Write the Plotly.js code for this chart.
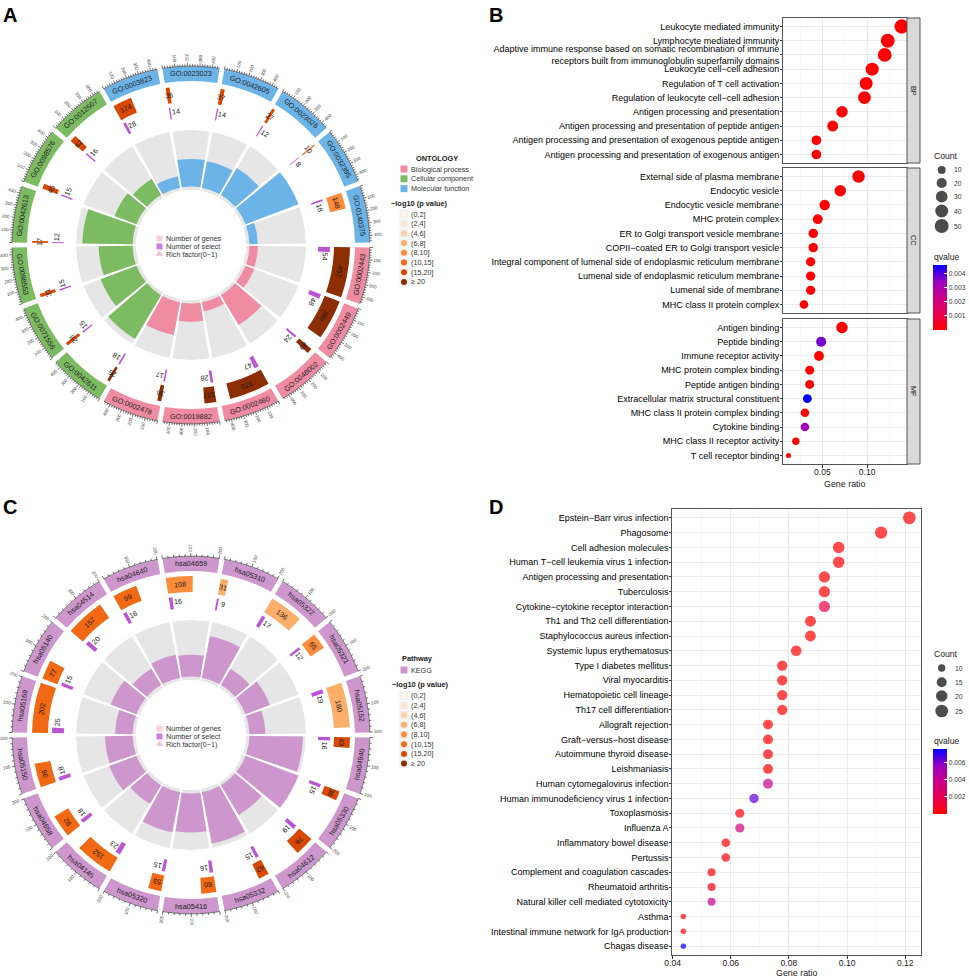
<!DOCTYPE html>
<html><head><meta charset="utf-8">
<script src="https://cdn.plot.ly/plotly-3.0.1.min.js"></script>
<style>html,body{margin:0;padding:0;background:#fff}</style>
</head><body><div id="chart" style="width:969px;height:978px"></div>
<script>
// ================= DATA =================
// Panel A : GO circle (sectors clockwise from 3 o'clock)
const goIds = ["GO:0002443","GO:0002449","GO:0048002","GO:0002460","GO:0019882","GO:0002478",
  "GO:0042611","GO:0071556","GO:0098553","GO:0042613","GO:0098576","GO:0012507",
  "GO:0003823","GO:0023023","GO:0042605","GO:0023026","GO:0032395","GO:0140375"];
const goOntology = ["BP","BP","BP","BP","BP","BP","CC","CC","CC","CC","CC","CC","MF","MF","MF","MF","MF","MF"];
const goGenes  = [457,365,49,370,107,36,25,28,31,17,45,62,174,36,37,27,10,148];
const goSelect = [54,48,24,47,28,17,18,15,15,12,15,16,28,14,14,12,8,18];
const goRich   = [0.12,0.13,0.49,0.13,0.26,0.47,0.72,0.54,0.48,0.71,0.33,0.26,0.16,0.39,0.38,0.44,0.80,0.12];
const goPBin   = [7,7,7,7,7,7,7,6,6,6,6,6,6,6,6,6,5,4];
const ontologyNames  = ["Biological process","Cellular component","Molecular function"];
const ontologyCodes  = ["BP","CC","MF"];
const ontologyColors = ["#F08CA2","#7CBB62","#6CB4E8"];

// Panel C : KEGG circle
const keggIds    = ["hsa04940","hsa05330","hsa04612","hsa05332","hsa05416","hsa05320","hsa04145","hsa04658","hsa05150",
  "hsa05169","hsa05140","hsa04514","hsa04640","hsa04659","hsa05310","hsa05322","hsa05321","hsa05152"];
const keggGenes  = [43,38,78,42,60,53,152,92,96,202,77,157,99,108,31,136,65,180];
const keggSelect = [16,15,19,15,16,15,23,18,18,25,15,20,16,16,9,17,12,19];
const keggRich   = [0.37,0.39,0.24,0.36,0.27,0.28,0.15,0.20,0.19,0.12,0.19,0.13,0.16,0.15,0.29,0.13,0.18,0.11];
const keggPBin   = [6,6,6,6,5,5,5,5,5,5,5,5,5,4,3,3,4,3];
const keggColor  = "#CD96CD";

const pBinLabels = ["(0,2]","(2,4]","(4,6]","(6,8]","(8,10]","(10,15]","(15,20]","≥ 20"];
const pBinColors = ["#FFF5EB","#FEE6CE","#FDD0A2","#FDAE6B","#FD8D3C","#F16913","#D94801","#8C2D04"];
const selectColor = "#BA55D3";

// Panel B : GO dot plot
const bpTerms = ["Leukocyte mediated immunity","Lymphocyte mediated immunity",
  "Adaptive immune response based on somatic recombination of immune<br>receptors built from immunoglobulin superfamily domains",
  "Leukocyte cell−cell adhesion","Regulation of T cell activation","Regulation of leukocyte cell−cell adhesion",
  "Antigen processing and presentation","Antigen processing and presentation of peptide antigen",
  "Antigen processing and presentation of exogenous peptide antigen","Antigen processing and presentation of exogenous antigen"];
const bpRatio = [0.1386,0.1230,0.1196,0.1056,0.0989,0.0970,0.0719,0.0615,0.0433,0.0433];
const bpCount = [54,48,47,41,39,38,28,24,17,17];
const bpQ     = [1e-9,1e-8,1e-8,3e-8,5e-8,6e-8,1e-9,2e-8,3e-7,3e-7];

const ccTerms = ["External side of plasma membrane","Endocytic vesicle","Endocytic vesicle membrane","MHC protein complex",
  "ER to Golgi transport vesicle membrane","COPII−coated ER to Golgi transport vesicle",
  "Integral component of lumenal side of endoplasmic reticulum membrane","Lumenal side of endoplasmic reticulum membrane",
  "Lumenal side of membrane","MHC class II protein complex"];
const ccRatio = [0.0904,0.0700,0.0526,0.0448,0.0398,0.0398,0.0369,0.0369,0.0369,0.0294];
const ccCount = [36,28,21,18,16,16,15,15,15,12];
const ccQ     = [1e-8,1e-7,2e-6,1e-12,3e-7,3e-7,1e-10,1e-10,1e-9,1e-9];

const mfTerms = ["Antigen binding","Peptide binding","Immune receptor activity","MHC protein complex binding","Peptide antigen binding",
  "Extracellular matrix structural constituent","MHC class II protein complex binding","Cytokine binding",
  "MHC class II receptor activity","T cell receptor binding"];
const mfRatio = [0.0719,0.0486,0.0462,0.0358,0.0358,0.0332,0.0305,0.0305,0.0203,0.0121];
const mfCount = [28,19,18,14,14,13,12,12,8,5];
const mfQ     = [1e-9,0.0037,1e-7,5e-8,5e-8,0.0046,2e-6,0.0032,1e-5,8e-5];
const facetNames = ["BP","CC","MF"];
const countTicksB = [10,20,30,40,50];
const qTicksB = [0.001,0.002,0.003,0.004];

// Panel D : KEGG dot plot
const kTerms = ["Epstein−Barr virus infection","Phagosome","Cell adhesion molecules","Human T−cell leukemia virus 1 infection",
  "Antigen processing and presentation","Tuberculosis","Cytokine−cytokine receptor interaction","Th1 and Th2 cell differentiation",
  "Staphylococcus aureus infection","Systemic lupus erythematosus","Type I diabetes mellitus","Viral myocarditis",
  "Hematopoietic cell lineage","Th17 cell differentiation","Allograft rejection","Graft−versus−host disease",
  "Autoimmune thyroid disease","Leishmaniasis","Human cytomegalovirus infection","Human immunodeficiency virus 1 infection",
  "Toxoplasmosis","Influenza A","Inflammatory bowel disease","Pertussis","Complement and coagulation cascades",
  "Rheumatoid arthritis","Natural killer cell mediated cytotoxicity","Asthma","Intestinal immune network for IgA production","Chagas disease"];
const kRatio = [0.1214,0.1117,0.0971,0.0971,0.0922,0.0922,0.0922,0.0874,0.0874,0.0825,0.0777,0.0777,0.0777,0.0777,
  0.0728,0.0728,0.0728,0.0728,0.0728,0.0680,0.0631,0.0631,0.0583,0.0583,0.0534,0.0534,0.0534,0.0437,0.0437,0.0437];
const kCount = [25,23,20,20,19,19,19,18,18,17,16,16,16,16,15,15,15,15,15,14,13,13,12,12,11,11,11,9,9,9];
const kQ = [1e-9,1e-12,2e-6,3e-5,1e-11,2e-6,0.0015,3e-8,3e-8,2e-6,2e-10,2e-9,4e-6,5e-6,3e-10,3e-10,2e-8,3e-6,0.0039,
  0.0064,2e-4,0.0034,2e-5,4e-4,3e-4,5e-4,0.0037,2e-5,4e-5,0.00755];
const countTicksD = [10,15,20,25];
const qTicksD = [0.002,0.004,0.006];

// ================= HELPERS =================
const W = 969, H = 978;
const PX = x => x / W, PY = y => 1 - y / H;
const FONT = "Liberation Sans, Arial, Helvetica, sans-serif";
const traces = [], annotations = [], shapes = [];
const layout = {
  width: W, height: H, margin: {l:0, r:0, t:0, b:0, pad:0},
  paper_bgcolor: "#ffffff", plot_bgcolor: "rgba(0,0,0,0)",
  showlegend: false, font: {family: FONT, color: "#1a1a1a"},
  annotations, shapes
};
const dom = (cx, cy, R) => ({x: [PX(cx - R), PX(cx + R)], y: [PY(cy + R), PY(cy - R)]});
const norm = a => { a = ((a % 360) + 360) % 360; return a > 180 ? a - 360 : a; };
const tang = (th, nice) => { let a = norm(th + 90); if (nice && (a > 90 || a < -90)) a = norm(a + 180); return a; };
const radial = th => { let a = norm(th); if (a > 90 || a < -90) a = norm(a + 180); return a; };
function text(x, y, t, size, opt) {
  opt = opt || {};
  annotations.push({xref: "paper", yref: "paper", x: PX(x), y: PY(y), text: t, showarrow: false,
    textangle: opt.angle || 0, xanchor: opt.xanchor || "center", yanchor: opt.yanchor || "middle",
    borderpad: 0, font: {family: FONT, size: size, color: opt.color || "#1a1a1a", weight: opt.bold ? "bold" : "normal"}});
}
const hidden = {showline:false, showgrid:false, showticklabels:false, ticks:"", zeroline:false};

// ================= CIRCLES =================
function drawCircle(o) {
  const n = o.ids.length, step = 360 / n, gap = 1.6, w = step - gap;
  const s0 = i => i * step + gap / 2;
  const th = (i, v) => s0(i) + v / o.xmax * w;
  const I = o.ids.map((_, i) => i);
  const maxRich = Math.max(...o.rich), lo = -0.06 * maxRich;
  const polarBase = {bgcolor: "rgba(0,0,0,0)",
    angularaxis: Object.assign({rotation: 0, direction: "clockwise"}, hidden)};
  layout[o.pi] = Object.assign({}, polarBase, {domain: dom(o.cx, o.cy, o.rRing[1]), hole: o.rRing[0] / o.rRing[1],
    radialaxis: Object.assign({range: [lo, maxRich]}, hidden)});
  layout[o.po] = Object.assign({}, polarBase, {domain: dom(o.cx, o.cy, o.R), hole: 0,
    radialaxis: Object.assign({range: [0, o.R]}, hidden)});
  const mid = I.map(i => s0(i) + w / 2);
  // rich factor ring: grey background + bars
  traces.push({type: "barpolar", subplot: o.pi, theta: mid, r: I.map(() => maxRich - lo), base: lo, width: w,
    marker: {color: "#E6E6E6", line: {width: 0}}, hoverinfo: "skip"});
  traces.push({type: "barpolar", subplot: o.pi, theta: mid, r: o.rich, base: 0, width: w,
    marker: {color: o.innerColors, line: {width: 0}}, hoverinfo: "skip"});
  // outer id band
  traces.push({type: "barpolar", subplot: o.po, theta: mid, r: I.map(() => o.rBand[1] - o.rBand[0]), base: o.rBand[0], width: w,
    marker: {color: o.bandColors, line: {width: 0}}, hoverinfo: "skip"});
  // number of genes
  traces.push({type: "barpolar", subplot: o.po, theta: I.map(i => th(i, o.genes[i] / 2)), width: I.map(i => o.genes[i] / o.xmax * w),
    r: I.map(() => o.rGenes[1] - o.rGenes[0]), base: o.rGenes[0],
    marker: {color: I.map(i => pBinColors[o.pbin[i]]), line: {width: 0}}, hoverinfo: "skip"});
  // number of select
  traces.push({type: "barpolar", subplot: o.po, theta: I.map(i => th(i, o.select[i] / 2)), width: I.map(i => o.select[i] / o.xmax * w),
    r: I.map(() => o.rSel[1] - o.rSel[0]), base: o.rSel[0],
    marker: {color: selectColor, line: {width: 0}}, hoverinfo: "skip"});
  // axis line & ticks on outer band
  const ar = [], at = [];
  const rA = o.rBand[1] + 0.3;
  I.forEach(i => {
    for (let v = 0; v <= o.xmax + 0.01; v += o.xmax / 40) { at.push(th(i, Math.min(v, o.xmax))); ar.push(rA); }
    at.push(null); ar.push(null);
    for (let v = 0; v <= o.xmax; v += o.minor) {
      const major = Math.abs(v / o.major - Math.round(v / o.major)) < 1e-6;
      at.push(th(i, v), th(i, v), null); ar.push(rA, rA + (major ? 3.2 : 2), null);
    }
  });
  traces.push({type: "scatterpolar", subplot: o.po, mode: "lines", theta: at, r: ar, connectgaps: false,
    line: {color: "#111", width: 0.6}, hoverinfo: "skip"});
  // labels
  const pos = (r, t) => [o.cx + r * Math.cos(t * Math.PI / 180), o.cy + r * Math.sin(t * Math.PI / 180)];
  I.forEach(i => {
    let p = pos((o.rBand[0] + o.rBand[1]) / 2, mid[i]);
    text(p[0], p[1], o.ids[i], o.bandFont, {angle: tang(mid[i], true), color: "#222"});
    const tg = th(i, o.genes[i] / 2);
    p = pos((o.rGenes[0] + o.rGenes[1]) / 2, tg);
    text(p[0], p[1], String(o.genes[i]), 7.2, {angle: tang(tg, false), color: "#1a1a1a"});
    const rs = (o.rSel[0] + o.rSel[1]) / 2;
    const ts = th(i, o.select[i]) + (5 / rs) * 180 / Math.PI;
    p = pos(rs + 1, ts);
    text(p[0], p[1], String(o.select[i]), 7.2, {angle: tang(ts, false), color: "#1a1a1a"});
    for (let v = o.major; v <= o.xmax; v += o.major) {
      const tt = th(i, v);
      p = pos(o.rBand[1] + 8.5, tt);
      text(p[0], p[1], String(v), 4.6, {angle: radial(tt), color: "#444"});
    }
  });
  // inner legend
  const lx = o.cx - 31.5;
  traces.push({type: "scatter", xaxis: "x5", yaxis: "y5", mode: "markers", x: [lx, lx, lx], y: [o.cy - 6.5, o.cy + 1.5, o.cy + 9],
    marker: {symbol: ["square", "square", "triangle-up"], size: [6, 6, 6.5], color: ["#F7BBC9", "#B947D8", "#E9A3BA"], line: {width: 0}}, hoverinfo: "skip"});
  ["Number of genes", "Number of select", "Rich factor(0−1)"].forEach((t, k) =>
    text(lx + 5.5, o.cy - 6.5 + [0, 8, 15.5][k], t, 7.2, {xanchor: "left", color: "#333"}));
}

drawCircle({cx: 191, cy: 245, R: 190, po: "polar", pi: "polar2", ids: goIds, genes: goGenes, select: goSelect, rich: goRich,
  pbin: goPBin, xmax: Math.max(...goGenes), major: 100, minor: 20,
  bandColors: goOntology.map(g => ontologyColors[ontologyCodes.indexOf(g)]),
  innerColors: goOntology.map(g => ontologyColors[ontologyCodes.indexOf(g)]),
  rBand: [164, 178.5], rGenes: [143, 159], rSel: [127, 139], rRing: [55, 115], bandFont: 7.3});
drawCircle({cx: 191, cy: 735, R: 190, po: "polar3", pi: "polar4", ids: keggIds, genes: keggGenes, select: keggSelect, rich: keggRich,
  pbin: keggPBin, xmax: Math.max(...keggGenes), major: 100, minor: 20,
  bandColors: keggIds.map(() => keggColor), innerColors: keggIds.map(() => keggColor),
  rBand: [164, 178.5], rGenes: [143, 159], rSel: [127, 139], rRing: [55, 115], bandFont: 7.3});

// circle legends (right of circles)
function keyLegend(title, titleX, titleY, names, colors, y0, dy) {
  text(titleX, titleY, title, 7.4, {xanchor: "left", bold: true, color: "#1a1a1a"});
  traces.push({type: "scatter", xaxis: "x5", yaxis: "y5", mode: "markers", x: names.map(() => 404), y: names.map((_, k) => y0 + k * dy),
    marker: {symbol: "square", size: 7, color: colors, line: {width: 0}}, hoverinfo: "skip"});
  names.forEach((nm, k) => text(410, y0 + k * dy, nm, 7.2, {xanchor: "left", color: "#333"}));
}
function pLegend(titleX, titleY, y0, dy) {
  text(titleX, titleY, "−log10 (p value)", 7.4, {xanchor: "left", bold: true, color: "#1a1a1a"});
  const ys = pBinLabels.map((_, k) => y0 + k * dy);
  traces.push({type: "scatter", xaxis: "x5", yaxis: "y5", mode: "markers", x: ys.map(() => 404), y: ys,
    marker: {symbol: "square", size: 9, color: "#F0F0F0", line: {width: 0}}, hoverinfo: "skip"});
  traces.push({type: "scatter", xaxis: "x5", yaxis: "y5", mode: "markers", x: ys.map(() => 404), y: ys,
    marker: {symbol: "circle", size: 6, color: pBinColors, line: {width: 0}}, hoverinfo: "skip"});
  pBinLabels.forEach((nm, k) => text(410, ys[k], nm, 7.2, {xanchor: "left", color: "#333"}));
}
keyLegend("ONTOLOGY", 415, 158, ontologyNames, ontologyColors, 169, 9.8);
pLegend(390, 203, 214, 9.7);
keyLegend("Pathway", 401, 658, ["KEGG"], [keggColor], 670, 9.8);
pLegend(391, 684, 695.7, 9.7);

// ================= DOT PLOTS =================
const qScale = [[0, "#FF0000"], [0.25, "#E80050"], [0.5, "#CA0088"], [0.75, "#9A00C3"], [1, "#0000FF"]];
const sizeMap = (cmin, cmax, dmin, dmax) => c => dmin + (dmax - dmin) * Math.sqrt(Math.max(0, (c - cmin) / (cmax - cmin)));
const allB = bpCount.concat(ccCount, mfCount);
const sizeB = sizeMap(Math.min(...allB), Math.max(...allB), 5, 14.4);
const qMaxB = Math.max(...bpQ, ...ccQ, ...mfQ);
const sizeD = sizeMap(Math.min(...kCount), Math.max(...kCount), 5.5, 12.7);
const qMaxD = Math.max(...kQ);

const gridC = "#EBEBEB", lineC = "#555555";
function xAx(range, dtick, minor, domain, anchor, labels) {
  return {domain, anchor, range, dtick, tick0: 0, tickformat: ".2f", showgrid: true, gridcolor: gridC, gridwidth: 1,
    minor: {dtick: minor, showgrid: true, gridcolor: "#F3F3F3", gridwidth: 0.6},
    showline: true, mirror: true, linecolor: lineC, linewidth: 1, zeroline: false, fixedrange: true,
    ticks: labels ? "outside" : "", ticklen: 2.5, tickcolor: "#333", showticklabels: labels, ticklabelstandoff: -3,
    tickfont: {family: FONT, size: 8.6, color: "#1a1a1a"}};
}
function yAx(terms, domain, anchor, size) {
  return {domain, anchor, type: "category", categoryarray: terms, categoryorder: "array", range: [terms.length - 0.4, -0.6],
    showgrid: true, gridcolor: gridC, gridwidth: 1, showline: true, mirror: true, linecolor: lineC, linewidth: 1,
    zeroline: false, fixedrange: true, ticks: "outside", ticklen: 2, tickcolor: "#333", ticklabelstandoff: -1,
    tickfont: {family: FONT, size: size, color: "#000"}};
}
const bX = [PX(783), PX(907)], bRange = [0.006, 0.1445];
const facetY = [[18, 163], [168, 313], [319, 464]];
layout.xaxis  = xAx(bRange, 0.05, 0.025, bX, "y", false);
layout.xaxis2 = xAx(bRange, 0.05, 0.025, bX, "y2", false);
layout.xaxis3 = xAx(bRange, 0.05, 0.025, bX, "y3", true);
layout.yaxis  = yAx(bpTerms, [PY(facetY[0][1]), PY(facetY[0][0])], "x", 9);
layout.yaxis2 = yAx(ccTerms, [PY(facetY[1][1]), PY(facetY[1][0])], "x2", 9);
layout.yaxis3 = yAx(mfTerms, [PY(facetY[2][1]), PY(facetY[2][0])], "x3", 9);
layout.xaxis4 = xAx([0.0399, 0.1253], 0.02, 0.01, [PX(672.3), PX(920.7)], "y4", true);
layout.yaxis4 = yAx(kTerms, [PY(955), PY(509)], "x4", 9);
layout.xaxis5 = {domain: [0, 1], range: [0, W], anchor: "y5", visible: false, fixedrange: true};
layout.yaxis5 = {domain: [0, 1], range: [H, 0], anchor: "x5", visible: false, fixedrange: true};

const facets = [[bpTerms, bpRatio, bpCount, bpQ], [ccTerms, ccRatio, ccCount, ccQ], [mfTerms, mfRatio, mfCount, mfQ]];
facets.forEach((f, k) => {
  traces.push({type: "scatter", mode: "markers", xaxis: k ? "x" + (k + 1) : "x", yaxis: k ? "y" + (k + 1) : "y",
    x: f[1], y: f[0], hoverinfo: "skip",
    marker: {size: f[2].map(sizeB), color: f[3], colorscale: qScale, cmin: 0, cmax: qMaxB, line: {width: 0}, opacity: 1,
      showscale: k === 0,
      colorbar: {x: PX(932.7), xanchor: "left", xpad: 0, y: PY(265), yanchor: "top", ypad: 0, len: 65, lenmode: "pixels",
        thickness: 14, thicknessmode: "pixels", outlinewidth: 0, tickvals: qTicksB, ticktext: qTicksB.map(v => v.toFixed(3)),
        ticks: "inside", ticklen: 3, tickcolor: "#fff", tickfont: {family: FONT, size: 6.6, color: "#333"}}}});
  // strip
  shapes.push({type: "rect", xref: "paper", yref: "paper", x0: PX(907), x1: PX(920), y0: PY(facetY[k][1]), y1: PY(facetY[k][0]),
    fillcolor: "#D9D9D9", line: {color: lineC, width: 1}});
  text(913.6, (facetY[k][0] + facetY[k][1]) / 2, facetNames[k], 7.4, {angle: 90, color: "#1a1a1a"});
});
traces.push({type: "scatter", mode: "markers", xaxis: "x4", yaxis: "y4", x: kRatio, y: kTerms, hoverinfo: "skip",
  marker: {size: kCount.map(sizeD), color: kQ, colorscale: qScale, cmin: 0, cmax: qMaxD, line: {width: 0}, showscale: true,
    colorbar: {x: PX(932.5), xanchor: "left", xpad: 0, y: PY(749), yanchor: "top", ypad: 0, len: 65, lenmode: "pixels",
      thickness: 14, thicknessmode: "pixels", outlinewidth: 0, tickvals: qTicksD, ticktext: qTicksD.map(v => v.toFixed(3)),
      ticks: "inside", ticklen: 3, tickcolor: "#fff", tickfont: {family: FONT, size: 6.6, color: "#333"}}}});

// count legends
function countLegend(vals, sizeFn, ys, titleY, labelX) {
  text(932.7, titleY, "Count", 8.6, {xanchor: "left", color: "#1a1a1a"});
  traces.push({type: "scatter", xaxis: "x5", yaxis: "y5", mode: "markers", x: vals.map(() => 941.7), y: ys,
    marker: {size: vals.map(sizeFn), color: "#000", line: {width: 0}}, hoverinfo: "skip"});
  vals.forEach((v, k) => text(labelX, ys[k], String(v), 6.8, {xanchor: "left", color: "#333"}));
}
countLegend(countTicksB, sizeB, [170, 183, 196.7, 211, 226], 156, 953);
countLegend(countTicksD, sizeD, [668, 682.3, 696, 711], 654, 954);
text(932.7, 256.7, "qvalue", 8.6, {xanchor: "left"});
text(932.7, 741, "qvalue", 8.6, {xanchor: "left"});
text(845, 483.5, "Gene ratio", 8.9, {});
text(796.5, 973, "Gene ratio", 8.9, {});

// panel letters
text(2, 3, "A", 20, {xanchor: "left", yanchor: "top", bold: true, color: "#000"});
text(488, 3, "B", 20, {xanchor: "left", yanchor: "top", bold: true, color: "#000"});
text(2, 495, "C", 20, {xanchor: "left", yanchor: "top", bold: true, color: "#000"});
text(488, 495, "D", 20, {xanchor: "left", yanchor: "top", bold: true, color: "#000"});

Plotly.newPlot("chart", traces, layout, {displayModeBar: false, staticPlot: true});
</script></body></html>
